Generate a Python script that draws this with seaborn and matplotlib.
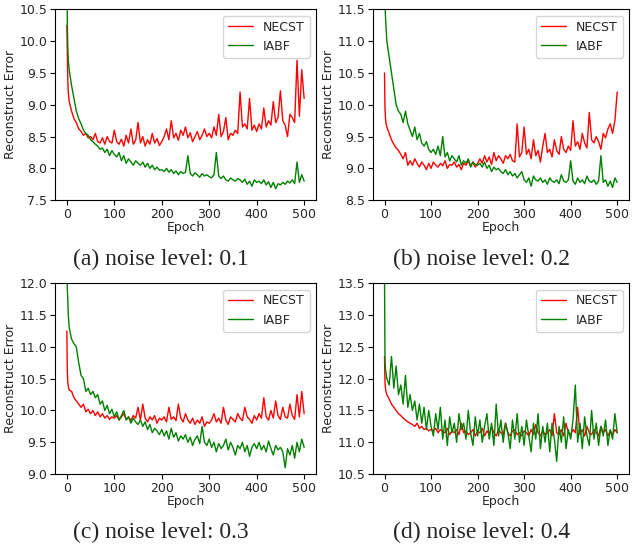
import pandas as pd
import seaborn as sns
import matplotlib
matplotlib.use("Agg")
import matplotlib.pyplot as plt
from matplotlib.ticker import FormatStrFormatter

# epochs sampled: 0,1,2,3 then every 5 epochs up to 500
EPOCHS = [0, 1, 2, 3] + list(range(5, 501, 5))

# noise level 0.1
necst_01 = [10.25, 9.8, 9.4, 9.2,
            9.05, 8.9, 8.78, 8.72, 8.62, 8.58, 8.52, 8.55, 8.48, 8.5,
            8.45, 8.55, 8.42, 8.4, 8.48, 8.38, 8.5, 8.42, 8.4, 8.6,
            8.42, 8.38, 8.46, 8.35, 8.52, 8.4, 8.62, 8.38, 8.44, 8.72,
            8.4, 8.5, 8.35, 8.45, 8.38, 8.55, 8.4, 8.47, 8.36, 8.42,
            8.5, 8.62, 8.45, 8.75, 8.48, 8.55, 8.44, 8.6, 8.52, 8.65,
            8.48, 8.56, 8.42, 8.5, 8.58, 8.45, 8.52, 8.62, 8.5, 8.55,
            8.48, 8.65, 8.52, 8.85, 8.5, 8.58, 8.8, 8.45, 8.55, 8.52,
            8.6, 8.55, 9.2, 8.65, 8.7, 8.62, 9.1, 8.6, 8.68, 8.58,
            8.7, 8.62, 8.95, 8.65, 8.75, 8.68, 9.05, 8.72, 8.8, 9.22,
            8.75, 8.68, 8.5, 8.85, 8.8, 8.72, 9.7, 8.82, 9.55, 9.1]
iabf_01 = [11.2, 10.3, 9.9, 9.7,
           9.55, 9.3, 9.1, 8.9, 8.78, 8.7, 8.6, 8.55, 8.52, 8.45,
           8.42, 8.38, 8.35, 8.3, 8.32, 8.25, 8.3, 8.2, 8.28, 8.22,
           8.18, 8.25, 8.12, 8.2, 8.08, 8.15, 8.1, 8.05, 8.12, 8.08,
           8.05, 8.1, 8.02, 8.08, 8.0, 8.05, 7.98, 8.02, 7.97, 7.98,
           7.95, 8.0, 7.94, 7.98, 7.92, 7.96, 7.9, 7.95, 7.92, 7.94,
           8.2, 7.92, 7.88, 7.93, 7.9, 7.86, 7.92, 7.88, 7.9, 7.87,
           7.85, 7.9, 8.25, 7.88, 7.84, 7.88, 7.82, 7.8, 7.85, 7.82,
           7.8, 7.84, 7.82, 7.78, 7.83, 7.75, 7.8, 7.72, 7.82, 7.78,
           7.8, 7.76, 7.82, 7.74, 7.79, 7.7, 7.78, 7.68, 7.76, 7.74,
           7.78, 7.75, 7.8, 7.77, 7.82, 7.76, 8.1, 7.78, 7.9, 7.8]

# noise level 0.2
necst_02 = [10.5, 9.95, 9.8, 9.72,
            9.65, 9.55, 9.45, 9.38, 9.32, 9.28, 9.22, 9.15, 9.25, 9.05,
            9.12, 9.05, 9.15, 9.08, 9.02, 9.1, 9.05, 8.98, 9.08, 9.0,
            9.1, 9.05, 9.02, 9.08, 9.04, 9.12, 9.0, 9.06, 9.05, 9.1,
            9.02, 9.06, 8.98, 9.08, 9.05, 9.12, 9.04, 9.1, 9.02, 9.08,
            9.15, 9.08, 9.2, 9.1, 9.18, 9.06, 9.25, 9.12, 9.2, 9.15,
            9.08, 9.2, 9.15, 9.22, 9.12, 9.1, 9.7, 9.18, 9.25, 9.65,
            9.22, 9.3, 9.15, 9.45, 9.2, 9.28, 9.1, 9.35, 9.55, 9.25,
            9.3, 9.18, 9.45, 9.28, 9.22, 9.5, 9.3, 9.25, 9.35, 9.28,
            9.75, 9.35, 9.42, 9.3, 9.55, 9.4, 9.32, 9.88, 9.45, 9.4,
            9.5, 9.42, 9.3, 9.55, 9.48, 9.62, 9.7, 9.55, 9.75, 10.2]
iabf_02 = [12.0, 11.6, 11.4, 11.25,
           11.0, 10.75, 10.5, 10.25, 10.0, 9.9, 9.85, 9.72, 9.9, 9.7,
           9.6, 9.5, 9.65, 9.45, 9.55, 9.4, 9.35, 9.42, 9.3, 9.25,
           9.3, 9.22, 9.35, 9.2, 9.5, 9.18, 9.25, 9.12, 9.2, 9.15,
           9.1, 9.2, 9.05, 9.12, 9.08, 9.15, 9.02, 9.1, 9.06, 9.05,
           9.08, 9.02, 9.1, 9.0, 9.05, 8.95, 9.02, 8.98, 9.0, 8.95,
           8.92, 8.98, 8.9, 8.95, 8.88, 8.92, 8.85, 8.9, 8.95, 8.82,
           8.78, 8.85, 8.72, 8.88, 8.82, 8.8, 8.85, 8.78, 8.82, 8.75,
           8.85, 8.8, 8.78, 8.82, 8.76, 8.9, 8.8, 8.78, 8.82, 9.12,
           8.8, 8.75, 8.85, 8.78, 8.82, 8.76, 8.88, 8.8, 8.78, 8.82,
           8.75, 8.8, 9.2, 8.78, 8.82, 8.72, 8.8, 8.7, 8.85, 8.78]

# noise level 0.3
necst_03 = [11.25, 10.6, 10.45, 10.38,
            10.32, 10.3, 10.2, 10.15, 10.1, 10.05, 10.1, 9.98, 10.02, 9.95,
            10.0, 9.92, 9.98, 9.9, 9.95, 9.88, 9.92, 9.86, 9.9, 9.88,
            9.92, 9.85, 9.9, 9.95, 9.86, 9.9, 9.84, 9.92, 9.88, 10.05,
            9.85, 10.1, 9.88, 9.82, 9.9, 9.85, 9.92, 9.8, 9.88, 9.85,
            9.9, 9.82, 10.05, 9.86, 9.9, 9.84, 10.1, 9.88, 9.82, 9.95,
            9.85, 9.8, 9.88, 9.78, 9.85, 9.8, 9.9, 9.75, 9.82, 9.8,
            9.85, 9.95, 9.82, 9.88, 9.8, 10.05, 9.85, 9.78, 9.9, 9.86,
            9.82, 9.95, 9.88, 9.84, 10.05, 9.9, 9.86, 9.8, 9.92, 9.85,
            9.95, 9.88, 10.2, 9.9, 9.85, 10.0, 9.88, 10.15, 9.92, 9.86,
            10.05, 9.9, 9.88, 10.1, 9.92, 9.86, 10.25, 9.9, 10.3, 9.95]
iabf_03 = [12.3, 11.9, 11.75, 11.5,
           11.3, 11.12, 11.05, 11.0, 10.75, 10.55, 10.5, 10.3, 10.35, 10.25,
           10.3, 10.2, 10.25, 10.1, 10.15, 10.0, 10.08, 9.95, 10.02, 9.9,
           9.98, 9.85, 9.92, 10.0, 9.85, 9.9, 9.8, 9.88, 9.82, 9.78,
           9.85, 9.75, 9.82, 9.7, 9.78, 9.65, 9.72, 9.68, 9.62, 9.7,
           9.6, 9.68, 9.55, 9.72, 9.58, 9.65, 9.52, 9.6, 9.55, 9.62,
           9.5, 9.58, 9.45, 9.55, 9.6, 9.48, 9.75, 9.5, 9.45, 9.55,
           9.42, 9.5, 9.35, 9.48, 9.4, 9.45, 9.55, 9.38, 9.5, 9.42,
           9.3, 9.45, 9.4, 9.5, 9.35, 9.45, 9.28, 9.42, 9.48, 9.4,
           9.5, 9.38, 9.45, 9.35, 9.52, 9.4, 9.3, 9.45, 9.38, 9.42,
           9.35, 9.1, 9.4, 9.3, 9.45, 9.25, 9.5, 9.35, 9.55, 9.42]

# noise level 0.4
necst_04 = [12.35, 11.95, 11.85, 11.8,
            11.75, 11.68, 11.6, 11.55, 11.5, 11.45, 11.42, 11.38, 11.35, 11.32,
            11.3, 11.28, 11.25, 11.3, 11.22, 11.25, 11.2, 11.22, 11.18, 11.2,
            11.18, 11.22, 11.15, 11.2, 11.17, 11.15, 11.22, 11.12, 11.18, 11.15,
            11.2, 11.12, 11.3, 11.15, 11.18, 11.12, 11.15, 11.2, 11.1, 11.17,
            11.15, 11.22, 11.1, 11.18, 11.12, 11.25, 11.15, 11.1, 11.2, 11.15,
            11.12, 11.3, 11.15, 11.1, 11.18, 11.2, 11.12, 11.15, 11.1, 11.18,
            11.15, 11.1, 11.2, 11.12, 11.28, 11.15, 11.1, 11.18, 11.12, 11.15,
            11.2, 11.1, 11.45, 11.15, 11.12, 11.2, 11.1, 11.3, 11.15, 11.12,
            11.2, 11.15, 11.55, 11.12, 11.2, 11.1, 11.25, 11.15, 11.12, 11.2,
            11.15, 11.1, 11.25, 11.15, 11.2, 11.1, 11.18, 11.12, 11.2, 11.15]
iabf_04 = [13.6, 12.3, 12.15, 12.1,
           12.0, 11.9, 12.35, 11.85, 12.2, 11.75, 11.9, 11.6, 12.05, 11.55,
           11.75, 11.5, 11.65, 11.35, 11.6, 11.3, 11.55, 11.2, 11.5, 11.25,
           11.1, 11.45, 11.2, 11.55, 11.05, 11.35, 10.95, 11.4, 11.15, 11.3,
           11.0, 11.45, 11.2, 11.3, 11.05, 11.5, 11.15, 10.95, 11.4, 11.1,
           11.35, 11.0, 11.25, 11.45, 11.05, 11.3, 10.95, 11.6, 11.1, 11.35,
           11.0, 11.3, 11.15, 10.9, 11.35, 11.05, 11.45, 11.0, 11.25, 10.95,
           11.35, 11.1, 10.85, 11.3, 11.05, 11.45, 10.9, 11.25, 11.0, 11.3,
           10.85, 11.3, 11.05, 10.7, 11.25, 11.0, 11.4, 10.9, 11.2, 11.05,
           11.35, 11.9, 11.0, 11.3, 10.9, 11.4, 11.1, 10.95, 11.5, 11.05,
           11.3, 10.95, 11.25, 11.1, 11.35, 10.95, 11.2, 11.05, 11.45, 11.15]

PANELS = [
    ("(a) noise level: 0.1", necst_01, iabf_01, (7.5, 10.5)),
    ("(b) noise level: 0.2", necst_02, iabf_02, (8.5, 11.5)),
    ("(c) noise level: 0.3", necst_03, iabf_03, (9.0, 12.0)),
    ("(d) noise level: 0.4", necst_04, iabf_04, (10.5, 13.5)),
]

sns.set_style("ticks")
plt.rcParams["font.family"] = ["DejaVu Sans"]

fig = plt.figure(figsize=(6.32, 5.5), dpi=100)
# axes rectangles [left, bottom, width, height] and caption x/y
rects = [[0.087, 0.636, 0.413, 0.347], [0.590, 0.636, 0.405, 0.347],
         [0.087, 0.138, 0.413, 0.347], [0.590, 0.138, 0.405, 0.347]]
cap_pos = [(0.255, 0.529), (0.762, 0.529), (0.255, 0.031), (0.762, 0.031)]

for (caption, necst, iabf, ylim), rect, (cx, cy) in zip(PANELS, rects, cap_pos):
    ax = fig.add_axes(rect)
    df = pd.DataFrame({"Epoch": EPOCHS, "NECST": necst, "IABF": iabf})
    sns.lineplot(data=df, x="Epoch", y="NECST", color="red", lw=1, label="NECST", ax=ax)
    sns.lineplot(data=df, x="Epoch", y="IABF", color="green", lw=1, label="IABF", ax=ax)
    ax.set_ylim(*ylim)
    ax.set_xlim(-25, 525)
    ax.set_xticks([0, 100, 200, 300, 400, 500])
    ax.yaxis.set_major_formatter(FormatStrFormatter("%.1f"))
    ax.tick_params(labelsize=9, length=3.5, color="black", pad=2)
    for s in ax.spines.values():
        s.set_color("black")
        s.set_linewidth(0.8)
    ax.set_xlabel("Epoch", fontsize=9, labelpad=0)
    ax.set_ylabel("Reconstruct Error", fontsize=9, labelpad=2)
    ax.legend(loc="upper right", fontsize=9, frameon=True)
    fig.text(cx, cy, caption, ha="center", va="center",
             family=["Liberation Serif"], fontsize=17)

fig.savefig("out.png", dpi=100)
